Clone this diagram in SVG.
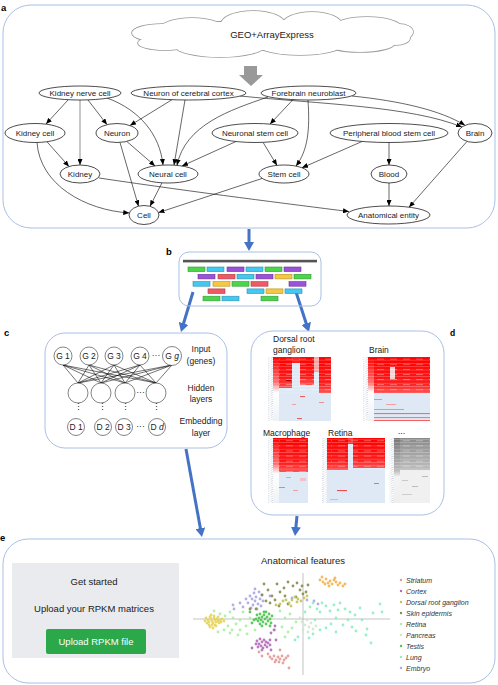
<svg xmlns="http://www.w3.org/2000/svg" width="498" height="685" viewBox="0 0 498 685">
<style>
text{font-family:"Liberation Sans",Arial,sans-serif;fill:#1a1a1a}
.lbl{font-size:9.5px;font-weight:bold;fill:#000}
.nd ellipse{fill:#fff;stroke:#000;stroke-width:0.7}
.nd text{font-size:8px;text-anchor:middle}
.ed path{fill:none;stroke:#000;stroke-width:0.6;marker-end:url(#ah)}
.panel{fill:#fff;stroke:#a9c0e6;stroke-width:1}
.blue{stroke:#4472c4;stroke-width:3;fill:none;marker-end:url(#bh)}
.nn circle{fill:#fff;stroke:#333;stroke-width:0.6}
.nn text{font-size:8.5px;text-anchor:middle}
.hm text{font-size:8.5px}
.sc circle{r:1.4px}
.lg text{font-size:7px;font-style:italic;fill:#333}
</style>
<defs>
<marker id="ah" markerUnits="userSpaceOnUse" markerWidth="6" markerHeight="5" refX="6" refY="2.5" orient="auto"><path d="M0,0 L6,2.5 L0,5 z" fill="#000"/></marker>
<marker id="bh" markerUnits="userSpaceOnUse" markerWidth="9" markerHeight="10" refX="2" refY="5" orient="auto"><path d="M0,0 L9,5 L0,10 z" fill="#4472c4"/></marker>
<linearGradient id="redg" x1="0" y1="0" x2="0" y2="1"><stop offset="0" stop-color="#ff0000"/><stop offset="0.7" stop-color="#ff1818"/><stop offset="1" stop-color="#ff5050"/></linearGradient>
<linearGradient id="colg" x1="0" y1="0" x2="0" y2="1"><stop offset="0" stop-color="#ff0000"/><stop offset="0.4" stop-color="#ff7070"/><stop offset="0.55" stop-color="#ffffff"/><stop offset="1" stop-color="#eef2f6"/></linearGradient>
<linearGradient id="grayg" x1="0" y1="0" x2="0" y2="1"><stop offset="0" stop-color="#8a8a8a"/><stop offset="1" stop-color="#bdbdbd"/></linearGradient>
<linearGradient id="graycol" x1="0" y1="0" x2="0" y2="1"><stop offset="0" stop-color="#777"/><stop offset="0.5" stop-color="#bbb"/><stop offset="0.6" stop-color="#f4f4f4"/><stop offset="1" stop-color="#eee"/></linearGradient>
<pattern id="rows" patternUnits="userSpaceOnUse" width="10" height="3.3"><rect x="0" y="0" width="10" height="0.6" fill="#fff" fill-opacity="0.35"/></pattern>
<pattern id="rows2" patternUnits="userSpaceOnUse" width="13" height="5.1"><rect x="0" y="2" width="7" height="0.6" fill="#fff" fill-opacity="0.55"/></pattern>
<pattern id="hatch" patternUnits="userSpaceOnUse" width="5" height="2.2"><path d="M0.5,1.8 L4.5,0.4" stroke="#a8b4c8" stroke-width="0.5"/></pattern>
</defs>

<!-- Panel a -->
<rect class="panel" x="3" y="5" width="492" height="223" rx="28"/>
<text class="lbl" x="1" y="11">a</text>

<g id="cloud">
<g fill="#999" stroke="#999" stroke-width="1.6">
<ellipse cx="162" cy="33" rx="30" ry="9"/><ellipse cx="192" cy="30" rx="33" ry="12"/><ellipse cx="253" cy="24" rx="32" ry="13"/><ellipse cx="312" cy="25" rx="30" ry="13"/><ellipse cx="367" cy="28" rx="35" ry="11"/><ellipse cx="399" cy="32" rx="14" ry="8"/><ellipse cx="165" cy="43" rx="27" ry="7"/><ellipse cx="220" cy="46" rx="45" ry="11"/><ellipse cx="300" cy="45" rx="42" ry="10"/><ellipse cx="360" cy="43" rx="35" ry="9"/><ellipse cx="396" cy="38" rx="14" ry="7"/><ellipse cx="272" cy="35" rx="110" ry="15"/>
</g>
<g fill="#fff">
<ellipse cx="162" cy="33" rx="30" ry="9"/><ellipse cx="192" cy="30" rx="33" ry="12"/><ellipse cx="253" cy="24" rx="32" ry="13"/><ellipse cx="312" cy="25" rx="30" ry="13"/><ellipse cx="367" cy="28" rx="35" ry="11"/><ellipse cx="399" cy="32" rx="14" ry="8"/><ellipse cx="165" cy="43" rx="27" ry="7"/><ellipse cx="220" cy="46" rx="45" ry="11"/><ellipse cx="300" cy="45" rx="42" ry="10"/><ellipse cx="360" cy="43" rx="35" ry="9"/><ellipse cx="396" cy="38" rx="14" ry="7"/><ellipse cx="272" cy="35" rx="110" ry="15"/>
</g>
<text x="272" y="37.5" font-size="9.5" text-anchor="middle">GEO+ArrayExpress</text>
</g>
<path id="grayarrow" d="M244,66 L257,66 L257,75 L263,75 L251,86 L239,75 L244,75 z" fill="#999"/>

<g id="edges" class="ed">
<path d="M68,100 L46,124"/>
<path d="M80,100 L80,165" style="stroke:#999;stroke-width:1.1"/>
<path d="M88,100 L107,124.6"/>
<path d="M107,98 C140,110 160,135 163,165"/>
<path d="M172,99.7 L130,125.5"/>
<path d="M185,100 L174,165.2"/>
<path d="M240,96 C320,104 410,106 462,127"/>
<path d="M268,97 C230,110 185,125 177,165.4"/>
<path d="M293,99.6 L270,124.1"/>
<path d="M308,100 C310,130 308,150 296,166.1"/>
<path d="M352,96 C400,101 440,110 465,125.3"/>
<path d="M47,141.8 L69,166.5"/>
<path d="M37,142.5 C40,185 85,210 129.3,213"/>
<path d="M127,141.6 L155,165.9"/>
<path d="M120,142.5 L138.5,206.2"/>
<path d="M236,141.5 L182,166"/>
<path d="M263,142.3 L277,165.4"/>
<path d="M362,141.5 L302,167.8"/>
<path d="M389,142.5 L389,165"/>
<path d="M467,141.4 L409,207.3"/>
<path d="M389,183 L389,206"/>
<path d="M99,178 C200,193 290,204 349,211.6"/>
<path d="M162,182.8 L150,206.3"/>
<path d="M262,178.5 L158.5,212.6"/>
</g>

<g id="n-kidney-nerve-cell" class="nd"><ellipse cx="80" cy="93" rx="41" ry="7"/><text x="80" y="96">Kidney nerve cell</text></g>
<g id="n-neuron-cortex" class="nd"><ellipse cx="188.5" cy="93" rx="57.5" ry="7"/><text x="188.5" y="96">Neuron of cerebral cortex</text></g>
<g id="n-forebrain-neuroblast" class="nd"><ellipse cx="308.5" cy="93" rx="47.5" ry="7"/><text x="308.5" y="96">Forebrain neuroblast</text></g>
<g id="n-kidney-cell" class="nd"><ellipse cx="35" cy="133" rx="30" ry="9.5"/><text x="35" y="136">Kidney cell</text></g>
<g id="n-neuron" class="nd"><ellipse cx="117" cy="133" rx="21" ry="9.5"/><text x="117" y="136">Neuron</text></g>
<g id="n-neuronal-stem-cell" class="nd"><ellipse cx="255" cy="133" rx="43" ry="9.5"/><text x="255" y="136">Neuronal stem cell</text></g>
<g id="n-pbsc" class="nd"><ellipse cx="389" cy="133" rx="59" ry="9.5"/><text x="389" y="136">Peripheral blood stem cell</text></g>
<g id="n-brain" class="nd"><ellipse cx="475" cy="133" rx="17" ry="9.5"/><text x="475" y="136">Brain</text></g>
<g id="n-kidney" class="nd"><ellipse cx="80" cy="174" rx="20" ry="9"/><text x="80" y="177">Kidney</text></g>
<g id="n-neural-cell" class="nd"><ellipse cx="168" cy="174" rx="30" ry="9"/><text x="168" y="177">Neural cell</text></g>
<g id="n-stem-cell" class="nd"><ellipse cx="284" cy="174" rx="25" ry="9"/><text x="284" y="177">Stem cell</text></g>
<g id="n-blood" class="nd"><ellipse cx="389" cy="174" rx="18" ry="9"/><text x="389" y="177">Blood</text></g>
<g id="n-cell" class="nd"><ellipse cx="144" cy="215" rx="15" ry="9.5"/><text x="144" y="218">Cell</text></g>
<g id="n-anatomical-entity" class="nd"><ellipse cx="388.5" cy="215" rx="41.5" ry="9"/><text x="388.5" y="218">Anatomical entity</text></g>

<!-- Blue connectors -->
<g id="blue-arrows">
<path class="blue" d="M249,229 L249,244"/>
<path class="blue" d="M193,292 L183,325.3"/>
<path class="blue" d="M296,292 L306.8,325.3"/>
<path class="blue" d="M186,449 L200.7,530.1"/>
<path class="blue" d="M297,516 L295.7,529"/>
</g>

<!-- Panel b -->
<g id="panel-b">
<rect class="panel" x="179" y="252" width="142" height="54" rx="10" style="fill:none"/>
<text class="lbl" x="166" y="255">b</text>
<rect x="183" y="259.8" width="134" height="2.6" fill="#555"/>
<g stroke-width="0.6">
<rect x="188" y="267" width="17" height="4.6" fill="#4cd44c" stroke="#2f9a2f"/>
<rect x="207" y="267" width="17" height="4.6" fill="#45c8ef" stroke="#2a8fb0"/>
<rect x="227" y="267" width="17" height="4.6" fill="#9b52d6" stroke="#6c34a0"/>
<rect x="246" y="267" width="17" height="4.6" fill="#45c8ef" stroke="#2a8fb0"/>
<rect x="265" y="267" width="17" height="4.6" fill="#4cd44c" stroke="#2f9a2f"/>
<rect x="284" y="267" width="17" height="4.6" fill="#9b52d6" stroke="#6c34a0"/>
<rect x="198" y="274.3" width="17" height="4.6" fill="#9b52d6" stroke="#6c34a0"/>
<rect x="218" y="274.3" width="17" height="4.6" fill="#ee5a64" stroke="#b03a44"/>
<rect x="237" y="274.3" width="17" height="4.6" fill="#45c8ef" stroke="#2a8fb0"/>
<rect x="256" y="274.3" width="17" height="4.6" fill="#9b52d6" stroke="#6c34a0"/>
<rect x="275" y="274.3" width="17" height="4.6" fill="#f5c842" stroke="#b89020"/>
<rect x="294" y="274.3" width="17" height="4.6" fill="#4cd44c" stroke="#2f9a2f"/>
<rect x="193" y="281.6" width="17" height="4.6" fill="#45c8ef" stroke="#2a8fb0"/>
<rect x="213" y="281.6" width="17" height="4.6" fill="#f5c842" stroke="#b89020"/>
<rect x="232" y="281.6" width="17" height="4.6" fill="#4cd44c" stroke="#2f9a2f"/>
<rect x="251" y="281.6" width="17" height="4.6" fill="#ee5a64" stroke="#b03a44"/>
<rect x="289" y="281.6" width="17" height="4.6" fill="#9b52d6" stroke="#6c34a0"/>
<rect x="208" y="288.9" width="17" height="4.6" fill="#ee5a64" stroke="#b03a44"/>
<rect x="247" y="288.9" width="17" height="4.6" fill="#45c8ef" stroke="#2a8fb0"/>
<rect x="266" y="288.9" width="17" height="4.6" fill="#f5c842" stroke="#b89020"/>
<rect x="285" y="288.9" width="17" height="4.6" fill="#45c8ef" stroke="#2a8fb0"/>
<rect x="203" y="296.2" width="17" height="4.6" fill="#4cd44c" stroke="#2f9a2f"/>
<rect x="222" y="296.2" width="17" height="4.6" fill="#45c8ef" stroke="#2a8fb0"/>
<rect x="261" y="296.2" width="17" height="4.6" fill="#4cd44c" stroke="#2f9a2f"/>
</g>
</g>

<!-- Panel c -->
<g id="panel-c">
<rect class="panel" x="45" y="333" width="182" height="115" rx="20"/>
<text class="lbl" x="4" y="336">c</text>
<g stroke="#000" stroke-width="0.55">
<path d="M63,365L78,383M63,365L101,383M63,365L125,383M63,365L156,383"/>
<path d="M89,365L78,383M89,365L101,383M89,365L125,383M89,365L156,383"/>
<path d="M114,365L78,383M114,365L101,383M114,365L125,383M114,365L156,383"/>
<path d="M140,365L78,383M140,365L101,383M140,365L125,383M140,365L156,383"/>
<path d="M172,365L78,383M172,365L101,383M172,365L125,383M172,365L156,383"/>
</g>
<g class="nn">
<g id="g1"><circle cx="63" cy="356" r="9"/><text x="63" y="359">G 1</text></g>
<g id="g2"><circle cx="89" cy="356" r="9"/><text x="89" y="359">G 2</text></g>
<g id="g3"><circle cx="114" cy="356" r="9"/><text x="114" y="359">G 3</text></g>
<g id="g4"><circle cx="140" cy="356" r="9"/><text x="140" y="359">G 4</text></g>
<g id="gg"><circle cx="172" cy="356" r="9.5"/><text x="172" y="359">G <tspan font-style="italic">g</tspan></text></g>
<text x="156" y="358">···</text>
<g id="h1"><circle cx="78" cy="393" r="10"/></g>
<g id="h2"><circle cx="101" cy="393" r="10"/></g>
<g id="h3"><circle cx="125" cy="393" r="10"/></g>
<g id="h4"><circle cx="156" cy="393" r="10"/></g>
<text x="140.5" y="395">···</text>
<text x="78" y="410">⋮</text><text x="102" y="410">⋮</text><text x="125" y="410">⋮</text><text x="156" y="410">⋮</text>
<g id="d1"><circle cx="76" cy="427" r="8.5"/><text x="76" y="430">D 1</text></g>
<g id="d2"><circle cx="103" cy="427" r="8.5"/><text x="103" y="430">D 2</text></g>
<g id="d3"><circle cx="124" cy="427" r="8.5"/><text x="124" y="430">D 3</text></g>
<g id="dd"><circle cx="157" cy="427" r="8.5"/><text x="157" y="430">D <tspan font-style="italic">d</tspan></text></g>
<text x="140.5" y="429">···</text>
</g>
<g font-size="8.5" text-anchor="middle">
<text x="201" y="352">Input</text><text x="201" y="364">(genes)</text>
<text x="201" y="391">Hidden</text><text x="201" y="402">layers</text>
<text x="201" y="424">Embedding</text><text x="201" y="436">layer</text>
</g>
</g>

<!-- Panel d -->
<g id="panel-d" class="hm">
<rect class="panel" x="251" y="331" width="193" height="184" rx="22"/>
<text class="lbl" x="450" y="336">d</text>
<text x="273" y="342">Dorsal root</text>
<text x="273" y="353">ganglion</text>
<text x="369" y="353">Brain</text>
<text x="263" y="436">Macrophage</text>
<text x="328" y="436">Retina</text>
<text x="398" y="434" fill="#999" font-size="7">...</text>

<!-- DRG -->
<rect x="268" y="357" width="5" height="64" fill="url(#hatch)"/>
<rect x="273" y="357" width="58" height="64" fill="#dfe9f6"/>
<rect x="279" y="357" width="13" height="31" fill="url(#redg)"/>
<rect x="292" y="357" width="8" height="6" fill="#ff2020"/>
<rect x="300" y="357" width="14" height="28" fill="url(#redg)"/>
<rect x="314" y="357" width="5" height="15" fill="#f7a0a0"/>
<rect x="319" y="357" width="12" height="36" fill="url(#redg)"/>
<rect x="273" y="357" width="6" height="64" fill="url(#colg)"/>
<rect x="273" y="357" width="58" height="36" fill="url(#rows)"/>
<rect x="279" y="357" width="52" height="36" fill="url(#rows2)"/>
<rect x="300" y="396" width="5" height="1.1" fill="#e86060"/>
<rect x="292" y="404" width="4" height="1" fill="#f0a0a0"/>
<rect x="297" y="418" width="5" height="1.1" fill="#e86060"/>
<rect x="319" y="402" width="5" height="1" fill="#f09090"/>
<rect x="286" y="380" width="5" height="1" fill="#a00"/>

<!-- Brain -->
<rect x="363" y="357" width="5" height="64" fill="url(#hatch)"/>
<rect x="368" y="357" width="62" height="64" fill="#dfe9f6"/>
<rect x="368" y="357" width="62" height="36" fill="url(#redg)"/>
<rect x="390" y="367" width="5" height="12" fill="#f6d0d0"/>
<rect x="368" y="357" width="6" height="64" fill="url(#colg)"/>
<rect x="368" y="357" width="62" height="36" fill="url(#rows)"/>
<rect x="374" y="357" width="56" height="36" fill="url(#rows2)"/>
<rect x="374" y="399" width="8" height="1" fill="#f29090"/>
<rect x="386" y="404" width="10" height="1" fill="#f2a0a0"/>
<rect x="374" y="409" width="30" height="1" fill="#f29090"/>
<rect x="374" y="413" width="56" height="1.1" fill="#f07070"/>
<rect x="374" y="417" width="56" height="1.1" fill="#f08080"/>
<rect x="374" y="420" width="56" height="1" fill="#f06060"/>

<!-- Macrophage -->
<rect x="268" y="438" width="5" height="65" fill="url(#hatch)"/>
<rect x="273" y="438" width="35" height="65" fill="#dfe9f6"/>
<rect x="279" y="438" width="29" height="34" fill="url(#redg)"/>
<rect x="273" y="438" width="6" height="65" fill="url(#colg)"/>
<rect x="273" y="438" width="35" height="34" fill="url(#rows)"/>
<rect x="279" y="438" width="29" height="34" fill="url(#rows2)"/>
<rect x="286" y="477" width="5" height="1" fill="#f0a0a0"/>
<rect x="279" y="487" width="6" height="1" fill="#f08080"/>
<rect x="293" y="490" width="5" height="1" fill="#f0a0a0"/>
<rect x="300" y="478" width="6" height="3" fill="#f4c0c8"/>

<!-- Retina -->
<rect x="322" y="438" width="5" height="65" fill="url(#hatch)"/>
<rect x="327" y="438" width="58" height="65" fill="#dfe9f6"/>
<rect x="327" y="438" width="21" height="32" fill="url(#redg)"/>
<rect x="348" y="438" width="5" height="6" fill="#ff3030"/>
<rect x="353" y="438" width="32" height="30" fill="url(#redg)"/>
<rect x="327" y="438" width="58" height="32" fill="url(#rows)"/>
<rect x="331" y="438" width="54" height="32" fill="url(#rows2)"/>
<rect x="337" y="490" width="10" height="1.1" fill="#e85050"/>
<rect x="374" y="483" width="5" height="1" fill="#e87070"/>
<rect x="330" y="499" width="8" height="1" fill="#f0b0b0"/>

<!-- gray -->
<rect x="389" y="438" width="5" height="65" fill="url(#hatch)"/>
<rect x="394" y="438" width="36" height="65" fill="#f0f0f0"/>
<rect x="400" y="438" width="30" height="32" fill="url(#grayg)"/>
<rect x="394" y="438" width="6" height="65" fill="url(#graycol)"/>
<rect x="394" y="438" width="36" height="32" fill="url(#rows)"/>
<rect x="400" y="438" width="30" height="32" fill="url(#rows2)"/>
<rect x="402" y="480" width="6" height="1" fill="#c8c8c8"/>
<rect x="412" y="486" width="6" height="1" fill="#bbb"/>
<rect x="422" y="476" width="6" height="1" fill="#bbb"/>
<rect x="402" y="494" width="10" height="1" fill="#ccc"/>
</g>

<!-- Panel e -->
<g id="panel-e">
<rect class="panel" x="3" y="539" width="492" height="144" rx="25"/>
<text class="lbl" x="0" y="541">e</text>
<rect x="12" y="563" width="167" height="95" fill="#e9ebee"/>
<text x="94" y="585" font-size="9.5" text-anchor="middle">Get started</text>
<text x="94" y="612" font-size="9.5" text-anchor="middle">Upload your RPKM matrices</text>
<rect x="46" y="629" width="100" height="25" rx="2" fill="#2aa84a"/>
<text x="96" y="645" font-size="9.5" text-anchor="middle" style="fill:#fff">Upload RPKM file</text>
<text x="303" y="564" font-size="9.5" text-anchor="middle">Anatomical features</text>
<g stroke="#aaa" stroke-width="0.7"><line x1="193" y1="619" x2="390" y2="619"/><line x1="303" y1="573" x2="303" y2="675"/></g>

<g class="sc" fill-opacity="0.9">
<g fill="#e5d45a"><circle cx="206" cy="618"/><circle cx="208" cy="620"/><circle cx="209" cy="622"/><circle cx="210" cy="617"/><circle cx="211" cy="619"/><circle cx="212" cy="621"/><circle cx="213" cy="623"/><circle cx="214" cy="618"/><circle cx="215" cy="620"/><circle cx="216" cy="622"/><circle cx="217" cy="619"/><circle cx="218" cy="621"/><circle cx="219" cy="623"/><circle cx="207" cy="623"/><circle cx="209" cy="625"/><circle cx="212" cy="625"/><circle cx="215" cy="625"/><circle cx="218" cy="617"/><circle cx="220" cy="620"/><circle cx="221" cy="622"/><circle cx="222" cy="619"/><circle cx="210" cy="627"/><circle cx="213" cy="628"/><circle cx="216" cy="626"/><circle cx="224" cy="621"/><circle cx="205" cy="621"/><circle cx="211" cy="615"/><circle cx="214" cy="616"/></g>
<g fill="#a8f0a0"><circle cx="220" cy="614"/><circle cx="225" cy="616"/><circle cx="230" cy="612"/><circle cx="233" cy="618"/><circle cx="228" cy="626"/><circle cx="224" cy="630"/><circle cx="232" cy="630"/><circle cx="236" cy="624"/><circle cx="240" cy="620"/><circle cx="243" cy="612"/><circle cx="246" cy="626"/><circle cx="238" cy="635"/><circle cx="230" cy="633"/><circle cx="250" cy="618"/><circle cx="255" cy="630"/><circle cx="247" cy="634"/><circle cx="280" cy="611"/><circle cx="285" cy="618"/><circle cx="290" cy="614"/><circle cx="296" cy="622"/><circle cx="288" cy="632"/><circle cx="282" cy="627"/><circle cx="275" cy="630"/><circle cx="292" cy="628"/><circle cx="240" cy="630"/><circle cx="214" cy="611"/><circle cx="218" cy="632"/><circle cx="285" cy="637"/></g>
<g fill="#4cc34c"><circle cx="257" cy="615"/><circle cx="259" cy="618"/><circle cx="260" cy="614"/><circle cx="261" cy="620"/><circle cx="262" cy="617"/><circle cx="263" cy="622"/><circle cx="264" cy="615"/><circle cx="265" cy="619"/><circle cx="266" cy="624"/><circle cx="267" cy="617"/><circle cx="268" cy="621"/><circle cx="269" cy="614"/><circle cx="270" cy="619"/><circle cx="271" cy="623"/><circle cx="260" cy="624"/><circle cx="262" cy="626"/><circle cx="258" cy="621"/><circle cx="264" cy="612"/><circle cx="266" cy="612"/><circle cx="270" cy="626"/><circle cx="256" cy="619"/><circle cx="272" cy="616"/><circle cx="254" cy="620"/><circle cx="250" cy="612"/><circle cx="252" cy="623"/></g>
<g fill="#a9a7e0"><circle cx="250" cy="596"/><circle cx="252" cy="599"/><circle cx="254" cy="593"/><circle cx="255" cy="601"/><circle cx="256" cy="597"/><circle cx="258" cy="604"/><circle cx="259" cy="592"/><circle cx="260" cy="599"/><circle cx="253" cy="605"/><circle cx="248" cy="603"/><circle cx="251" cy="608"/><circle cx="257" cy="609"/><circle cx="262" cy="595"/><circle cx="263" cy="601"/><circle cx="246" cy="599"/><circle cx="233" cy="605"/><circle cx="234" cy="609"/><circle cx="243" cy="607"/><circle cx="240" cy="603"/><circle cx="261" cy="606"/><circle cx="255" cy="589"/><circle cx="270" cy="596"/><circle cx="292" cy="598"/><circle cx="307" cy="600"/><circle cx="314" cy="601"/><circle cx="318" cy="604"/></g>
<g fill="#8a8a50"><circle cx="264" cy="584"/><circle cx="268" cy="590"/><circle cx="272" cy="596"/><circle cx="275" cy="600"/><circle cx="277" cy="584"/><circle cx="280" cy="592"/><circle cx="284" cy="588"/><circle cx="288" cy="582"/><circle cx="293" cy="586"/><circle cx="297" cy="583"/><circle cx="300" cy="590"/><circle cx="303" cy="594"/><circle cx="296" cy="597"/><circle cx="285" cy="596"/><circle cx="279" cy="606"/><circle cx="262" cy="595"/><circle cx="266" cy="601"/><circle cx="256" cy="609"/><circle cx="270" cy="603"/><circle cx="306" cy="592"/><circle cx="308" cy="585"/><circle cx="250" cy="609"/><circle cx="288" cy="604"/><circle cx="302" cy="586"/></g>
<g fill="#c2c25a"><circle cx="283" cy="601"/><circle cx="286" cy="600"/><circle cx="289" cy="603"/><circle cx="292" cy="600"/><circle cx="295" cy="597"/><circle cx="298" cy="599"/><circle cx="301" cy="601"/><circle cx="304" cy="598"/><circle cx="297" cy="602"/><circle cx="280" cy="604"/><circle cx="307" cy="596"/><circle cx="291" cy="606"/><circle cx="276" cy="605"/></g>
<g fill="#f3b24f"><circle cx="320" cy="580"/><circle cx="323" cy="582"/><circle cx="326" cy="579"/><circle cx="328" cy="583"/><circle cx="330" cy="581"/><circle cx="332" cy="584"/><circle cx="334" cy="580"/><circle cx="336" cy="582"/><circle cx="338" cy="585"/><circle cx="340" cy="583"/><circle cx="343" cy="586"/><circle cx="325" cy="584"/><circle cx="329" cy="586"/><circle cx="335" cy="578"/><circle cx="322" cy="577"/><circle cx="345" cy="584"/></g>
<g fill="#8af0c4"><circle cx="305" cy="612"/><circle cx="310" cy="607"/><circle cx="313" cy="603"/><circle cx="317" cy="609"/><circle cx="320" cy="612"/><circle cx="322" cy="603"/><circle cx="326" cy="606"/><circle cx="330" cy="611"/><circle cx="334" cy="605"/><circle cx="338" cy="610"/><circle cx="340" cy="603"/><circle cx="345" cy="609"/><circle cx="350" cy="612"/><circle cx="348" cy="620"/><circle cx="343" cy="625"/><circle cx="336" cy="618"/><circle cx="331" cy="624"/><circle cx="326" cy="628"/><circle cx="320" cy="630"/><circle cx="355" cy="615"/><circle cx="360" cy="608"/><circle cx="362" cy="620"/><circle cx="356" cy="631"/><circle cx="366" cy="635"/><circle cx="371" cy="643"/><circle cx="367" cy="629"/><circle cx="373" cy="613"/><circle cx="382" cy="612"/><circle cx="380" cy="604"/><circle cx="336" cy="632"/><circle cx="313" cy="634"/><circle cx="309" cy="638"/><circle cx="298" cy="637"/><circle cx="295" cy="640"/><circle cx="315" cy="620"/><circle cx="352" cy="627"/></g>
<g fill="#cfe6cf"><circle cx="302" cy="622"/><circle cx="305" cy="625"/><circle cx="307" cy="620"/><circle cx="309" cy="627"/><circle cx="311" cy="623"/><circle cx="313" cy="629"/><circle cx="303" cy="630"/><circle cx="316" cy="626"/><circle cx="300" cy="618"/><circle cx="308" cy="632"/></g>
<g fill="#b46cb8"><circle cx="257" cy="641"/><circle cx="259" cy="644"/><circle cx="260" cy="639"/><circle cx="261" cy="646"/><circle cx="262" cy="642"/><circle cx="263" cy="648"/><circle cx="264" cy="640"/><circle cx="265" cy="645"/><circle cx="266" cy="642"/><circle cx="267" cy="647"/><circle cx="268" cy="643"/><circle cx="270" cy="645"/><circle cx="258" cy="647"/><circle cx="262" cy="650"/><circle cx="256" cy="644"/><circle cx="270" cy="640"/><circle cx="252" cy="648"/><circle cx="271" cy="633"/><circle cx="274" cy="630"/><circle cx="275" cy="626"/><circle cx="276" cy="640"/><circle cx="271" cy="650"/></g>
<g fill="#e29a96"><circle cx="270" cy="657"/><circle cx="272" cy="659"/><circle cx="274" cy="656"/><circle cx="276" cy="660"/><circle cx="278" cy="657"/><circle cx="280" cy="659"/><circle cx="282" cy="656"/><circle cx="284" cy="660"/><circle cx="286" cy="658"/><circle cx="275" cy="662"/><circle cx="279" cy="662"/><circle cx="283" cy="663"/><circle cx="288" cy="656"/><circle cx="289" cy="668"/><circle cx="259" cy="652"/><circle cx="262" cy="656"/><circle cx="268" cy="654"/><circle cx="280" cy="650"/></g>
</g>

<g class="lg">
<circle cx="401" cy="580" r="1.2" fill="#e29a96"/><text x="406" y="582.5">Striatum</text>
<circle cx="401" cy="591" r="1.2" fill="#b46cb8"/><text x="406" y="593.5">Cortex</text>
<circle cx="401" cy="602" r="1.2" fill="#c2c25a"/><text x="406" y="604.5">Dorsal root ganglion</text>
<circle cx="401" cy="613" r="1.2" fill="#8a8a50"/><text x="406" y="615.5">Skin epidermis</text>
<circle cx="401" cy="624" r="1.2" fill="#a8f0a0"/><text x="406" y="626.5">Retina</text>
<circle cx="401" cy="635" r="1.2" fill="#cfe6cf"/><text x="406" y="637.5">Pancreas</text>
<circle cx="401" cy="646" r="1.2" fill="#4cc34c"/><text x="406" y="648.5">Testis</text>
<circle cx="401" cy="657" r="1.2" fill="#8af0c4"/><text x="406" y="659.5">Lung</text>
<circle cx="401" cy="668" r="1.2" fill="#a9a7e0"/><text x="406" y="670.5">Embryo</text>
</g>
</g>
</svg>
